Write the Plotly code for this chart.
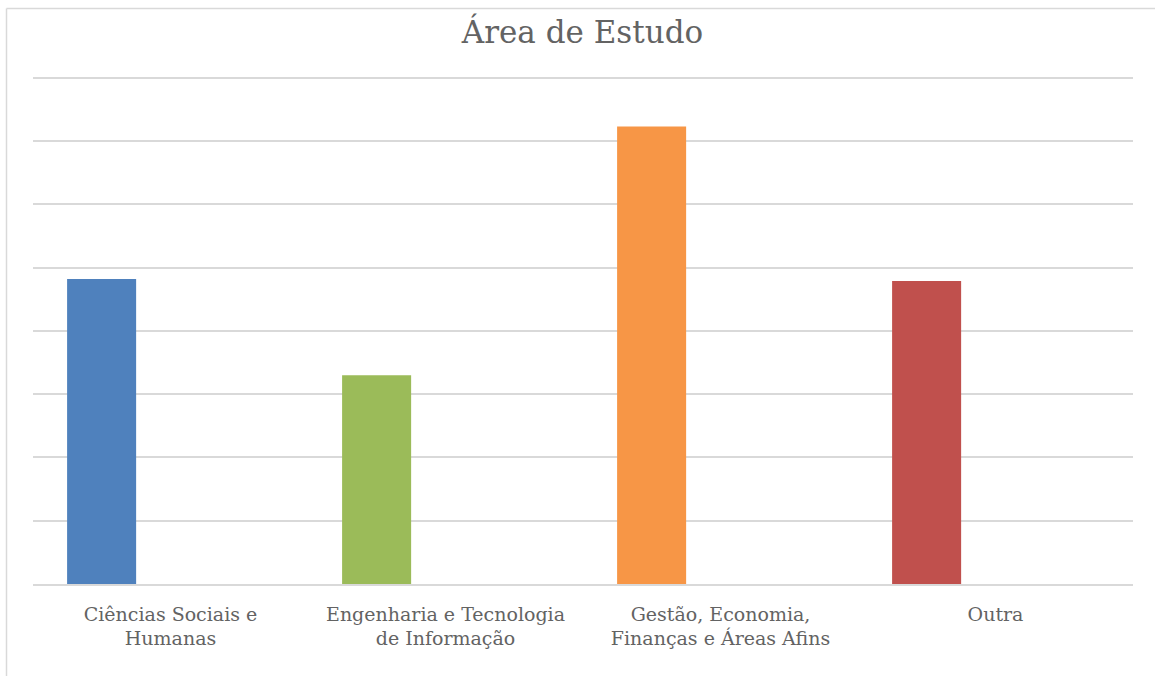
import plotly.graph_objects as go

categories = ["Ciências Sociais e<br>Humanas", "Engenharia e Tecnologia<br>de Informação",
              "Gestão, Economia,<br>Finanças e Áreas Afins", "Outra"]
values = [4.82, 3.30, 7.23, 4.79]
colors = ["#4F81BD", "#9BBB59", "#F79646", "#C0504D"]

W, H = 1155, 676
L, R, T, B = 33, 22, 76, 92
pw, ph = W - L - R, H - T - B

fig = go.Figure(go.Bar(
    x=categories, y=values, marker=dict(color=colors, line=dict(width=0)),
    width=0.251, offset=-0.376, hoverinfo="x+y"))

fig.update_layout(
    width=W, height=H,
    margin=dict(l=L, r=R, t=T, b=B),
    paper_bgcolor="white", plot_bgcolor="white",
    showlegend=False,
    title=dict(text="Área de Estudo", x=582.5 / W, xanchor="center",
               y=1 - 32 / H, yanchor="middle",
               font=dict(family="DejaVu Serif", size=31, color="#636363")),
    font=dict(family="DejaVu Serif", color="#636363"),
    xaxis=dict(showgrid=False, showline=True, linecolor="#D9D9D9", linewidth=1.5,
               ticks="", tickfont=dict(size=19, color="#636363"),
               ticklabelstandoff=12),
    yaxis=dict(range=[0, 8.03], tickvals=[1, 2, 3, 4, 5, 6, 7, 8],
               showticklabels=False, showgrid=True,
               gridcolor="#D9D9D9", gridwidth=1.5, zeroline=False, ticks=""),
    shapes=[
        dict(type="line", xref="paper", yref="paper",
             x0=(6.5 - L) / pw, x1=(6.5 - L) / pw,
             y0=(H - B - 8.5) / ph, y1=-(B + 5) / ph,
             line=dict(color="#D9D9D9", width=1.5)),
        dict(type="line", xref="paper", yref="paper",
             x0=(6.5 - L) / pw, x1=(W + 5 - L) / pw,
             y0=(H - B - 8.5) / ph, y1=(H - B - 8.5) / ph,
             line=dict(color="#D9D9D9", width=1.5)),
    ],
)

fig.write_html("out.html", config={"displayModeBar": False},
               post_script="document.body.style.margin='0';document.body.style.overflow='hidden';")
